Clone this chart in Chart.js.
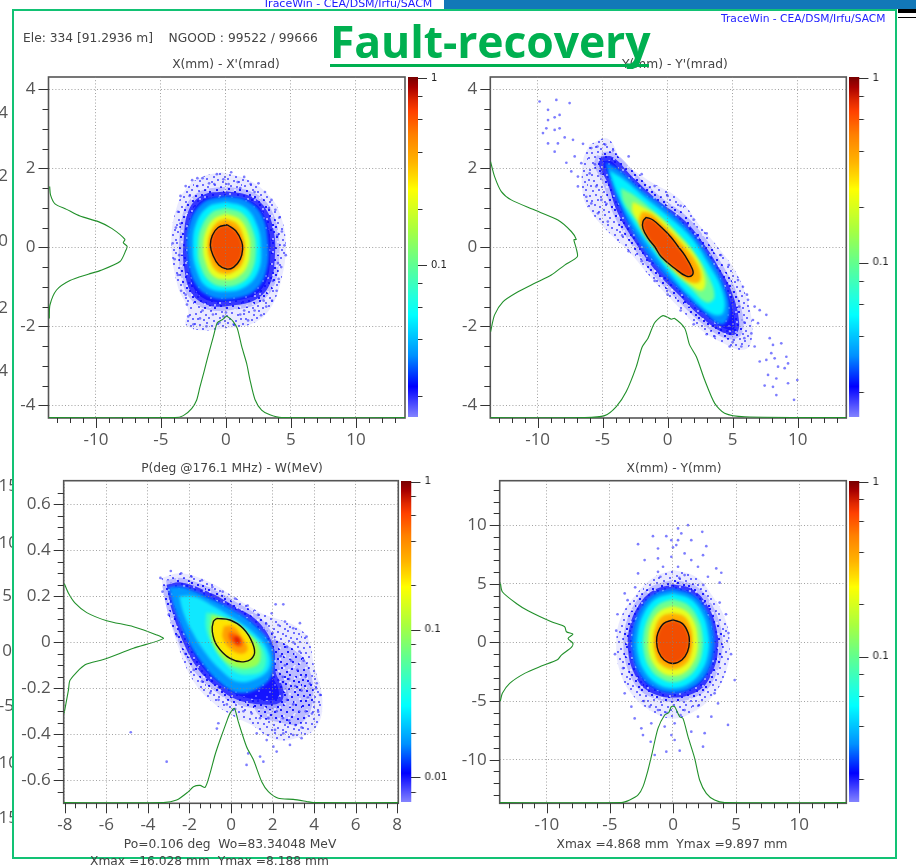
<!DOCTYPE html>
<html><head><meta charset="utf-8">
<script src="https://cdn.jsdelivr.net/npm/chart.js@4"></script>
<style>
html,body{margin:0;padding:0;background:#fff;width:916px;height:865px;overflow:hidden}
#stage{position:absolute;left:0;top:0;width:916px;height:865px;overflow:hidden;filter:blur(0.3px)}
.t{position:absolute;white-space:pre;font-family:"DejaVu Sans",sans-serif;font-size:12.25px;color:#444;line-height:1;z-index:5}
.c{transform:translateX(-50%)}
.st{position:absolute;font-family:"Open Sans",sans-serif;font-size:17px;color:#555;line-height:1;text-align:right;width:30px}
canvas{position:absolute;z-index:3}
</style></head><body><div id="stage">
<div style="position:absolute;left:444px;top:0;width:472px;height:9px;background:#1278b8"></div>
<div style="position:absolute;left:898px;top:9px;width:18px;height:4px;background:#000"></div>
<div style="position:absolute;left:898px;top:16.5px;width:18px;height:1.5px;background:#000"></div>
<div class="t" style="left:263px;top:-2px;color:#1a1aff;font-size:11px">TraceWin - CEA/DSM/Irfu/SACM</div>
<div class="t" style="left:90px;top:855px;">Xmax =16.028 mm  Ymax =8.188 mm</div>
<div class="st" style="left:-22px;top:103px">4</div><div class="st" style="left:-22px;top:166px">2</div>
<div class="st" style="left:-22px;top:231px">0</div><div class="st" style="left:-22px;top:298px">2</div>
<div class="st" style="left:-22px;top:361px">4</div>
<div class="st" style="left:-12px;top:476px">15</div><div class="st" style="left:-12px;top:533px">10</div>
<div class="st" style="left:-18px;top:586px">5</div><div class="st" style="left:-18px;top:641px">0</div>
<div class="st" style="left:-16px;top:696px">-5</div><div class="st" style="left:-12px;top:753px">10</div>
<div class="st" style="left:-12px;top:808px">15</div>
<div style="position:absolute;left:12px;top:9px;width:881px;height:846px;background:#fff;border:2.5px solid #12c274;z-index:1"></div>
<div class="t" style="left:23px;top:32px" id="hdr">Ele: 334 [91.2936 m]    NGOOD : 99522 / 99666</div>
<div class="t" style="left:721px;top:14px;color:#2222ff;font-size:10.7px">TraceWin - CEA/DSM/Irfu/SACM</div>
<div class="t c" style="left:226px;top:58px">X(mm) - X'(mrad)</div>
<div class="t c" style="left:675px;top:58px">Y(mm) - Y'(mrad)</div>
<div class="t c" style="left:232px;top:462px">P(deg @176.1 MHz) - W(MeV)</div>
<div class="t c" style="left:674px;top:462px">X(mm) - Y(mm)</div>
<div class="t c" style="left:230px;top:838px">Po=0.106 deg  Wo=83.34048 MeV</div>
<div class="t c" style="left:672px;top:838px">Xmax =4.868 mm  Ymax =9.897 mm</div>
<div style="position:absolute;left:330px;top:12px;color:#00b050;font:700 44.5px 'Open Sans',sans-serif;line-height:58px;z-index:6;white-space:pre;letter-spacing:-0.1px" id="ttl">Fault-recovery</div>
<div style="position:absolute;left:330px;top:64px;width:319px;height:3px;background:#00b050;z-index:6"></div>
<canvas id="a1"></canvas><canvas id="b1"></canvas>
<canvas id="a2"></canvas><canvas id="b2"></canvas>
<canvas id="a3"></canvas><canvas id="b3"></canvas>
<canvas id="a4"></canvas><canvas id="b4"></canvas>
</div>
<script>
// ---------- tick lists ----------
const xMajorWide=[-10,-5,0,5,10];
const xMinorWide=[-13,-12,-11,-9,-8,-7,-6,-4,-3,-2,-1,1,2,3,4,6,7,8,9,11,12,13];
const yMajorPhase=[-4,-2,0,2,4];
const yMinorPhase=[-3.5,-3,-2.5,-1.5,-1,-.5,.5,1,1.5,2.5,3,3.5];
const xMajorP3=[-8,-6,-4,-2,0,2,4,6,8];
const xMinorP3=[-7.5,-7,-6.5,-5.5,-5,-4.5,-3.5,-3,-2.5,-1.5,-1,-.5,.5,1,1.5,2.5,3,3.5,4.5,5,5.5,6.5,7,7.5];
const yMajorP3=[-.6,-.4,-.2,0,.2,.4,.6];
const yMinorP3=[-.65,-.55,-.5,-.45,-.35,-.3,-.25,-.15,-.1,-.05,.05,.1,.15,.25,.3,.35,.45,.5,.55,.65];
const yMajorP4=[-10,-5,0,5,10];
const yMinorP4=[-13,-12,-11,-9,-8,-7,-6,-4,-3,-2,-1,1,2,3,4,6,7,8,9,11,12,13];
const cbMajor=[1,.1];
const cbMajorP3=[1,.1,.01];
const cbMinor=[.8,.6,.4,.2,.08,.06,.04,.02];
const cbMinorP3=[.8,.6,.4,.2,.08,.06,.04,.02,.008];
const cbMax=[1.012,1.012,1.012,1.012];
const cbMin=[.0154,.0146,.0068,.0148];
const cbStops=[[0,'#780000'],[.03,'#a80000'],[.07,'#e02800'],[.1,'#ff4000'],[.17,'#ff8000'],[.25,'#ffb400'],[.3,'#ffe000'],[.33,'#ffff00'],[.45,'#a8ff40'],[.55,'#60ff90'],[.65,'#20ffe0'],[.7,'#00ffff'],[.82,'#0090ff'],[.91,'#0000ff'],[1,'#8484ff']];

// ---------- density level fills, outer to inner ----------
const levelColors=['speck','holes','#0090ff','#00f0ff','#70ff90','#e8ff20','#ffb000','#f24e00'];
const levelColorsP3=['speck','speckDense','holes','#0098ff','#10e8ff','#40ffc0','#98ff50','#ffe400','#ffa000','#ff6000','#e02000'];
// hand-placed speckle cell used as the low-density fill texture
const speckCell=[[1,3],[6,1],[11,4],[16,0],[21,3],[27,1],[32,5],[37,2],[43,4],[3,8],[9,9],[14,7],[19,10],[25,7],[30,10],[35,8],[41,10],[46,8],[0,13],[5,14],[12,12],[17,15],[23,13],[28,15],[33,12],[39,14],[44,15],[2,19],[8,18],[13,20],[20,18],[26,20],[31,17],[36,19],[42,20],[47,18],[4,24],[10,23],[15,25],[22,23],[29,25],[34,22],[40,25],[45,23],[1,29],[7,28],[12,30],[18,28],[24,30],[30,28],[37,30],[43,28],[3,34],[9,33],[16,35],[21,33],[27,35],[33,33],[39,35],[46,34],[0,39],[6,38],[11,40],[17,38],[23,40],[29,38],[35,40],[41,38],[47,40],[4,44],[10,45],[15,43],[20,45],[26,43],[32,45],[38,43],[44,45]];

// ---------- panel 1: X - X' ----------
const p1L0=[[-.3,1.9],[1.6,1.72],[3.2,1.35],[4.1,.9],[4.6,.1],[4.2,-.9],[3.3,-1.6],[1.9,-1.95],[0,-2.05],[-2,-2.1],[-3.1,-1.95],[-2.9,-1.6],[-3.7,-1],[-4.2,.1],[-3.8,1],[-2.9,1.55],[-1.7,1.8]];
const p1L1=[[0,1.42],[1.7,1.32],[2.9,1.05],[3.65,.45],[3.75,-.3],[3.35,-.95],[2.3,-1.32],[.5,-1.47],[-1.3,-1.47],[-2.6,-1.18],[-3.2,-.55],[-3.25,.2],[-2.85,.95],[-1.8,1.32]];
const p1L2=[[0,1.3],[1.5,1.2],[2.7,.85],[3.2,.2],[3.1,-.6],[2.2,-1.1],[.5,-1.3],[-1.2,-1.25],[-2.4,-.9],[-2.95,-.2],[-2.8,.6],[-1.7,1.15]];
const p1L3=[[0,1.15],[1.5,1],[2.4,.55],[2.7,0],[2.5,-.6],[1.5,-1],[0,-1.12],[-1.5,-1],[-2.3,-.55],[-2.55,0],[-2.3,.6],[-1.4,1.02]];
const p1L4=[[0,1],[1.3,.85],[2.1,.4],[2.3,-.1],[2,-.6],[1.2,-.9],[0,-1],[-1.2,-.88],[-2,-.45],[-2.15,.05],[-1.9,.5],[-1.1,.88]];
const p1L5=[[0,.85],[1.1,.7],[1.75,.3],[1.85,-.1],[1.6,-.5],[.9,-.75],[0,-.82],[-1,-.72],[-1.6,-.35],[-1.75,.05],[-1.5,.45],[-.9,.73]];
const p1L6=[[0,.72],[.9,.58],[1.4,.2],[1.45,-.1],[1.2,-.45],[.6,-.62],[0,-.68],[-.8,-.58],[-1.3,-.25],[-1.4,.05],[-1.2,.38],[-.7,.63]];
const p1Ellipse=[[.1,.57],[.75,.42],[1.2,.15],[1.28,-.05],[1.1,-.3],[.6,-.5],[.05,-.55],[-.55,-.45],[-1,-.2],[-1.2,.05],[-1.05,.3],[-.6,.5]];
const p1Dots=[[-3.5,1.3],[-3.1,1.55],[-2.6,1.7],[-2.2,1.55],[-1.8,1.75],[-1.3,1.62],[-.7,1.85],[-.2,1.72],[.4,1.9],[.9,1.65],[1.4,1.78],[1.9,1.6],[2.5,1.62],[3,1.4],[3.5,1.2],[3.8,.95],[4.1,.75],[4.3,.4],[4.5,.05],[4.6,-.2],[4.25,-.5],[4.05,-.8],[3.9,-1.1],[3.55,-1.35],[3.1,-1.5],[2.7,-1.72],[2.2,-1.6],[1.7,-1.85],[1.1,-1.7],[.6,-1.95],[0,-1.65],[-.5,-1.9],[-1,-1.7],[-1.5,-2],[-2,-1.8],[-2.5,-1.95],[-2.9,-1.75],[-3,-1.45],[-3.45,-1.1],[-3.7,-.7],[-3.95,-.3],[-4.1,.1],[-3.85,.5],[-3.7,.9],[-2.2,1.75],[-.9,1.6],[.2,1.6],[1.1,1.5],[2.2,1.4],[3.3,1],[3.95,.3],[4,-.4],[3.6,-.85],[2.9,-1.35],[1.4,-1.6],[-.2,-1.75],[-1.8,-1.6],[-3.1,-1.2],[-3.6,-.2],[-3.5,.6],[-2.8,1.3]];
const p1ProfileX=[[-13.64,-4.31],[-3.92,-4.31],[-3.28,-4.26],[-2.64,-4.08],[-2.26,-3.87],[-2,-3.53],[-1.69,-3.15],[-1.36,-2.73],[-.97,-2.26],[-.67,-1.91],[-.33,-1.84],[-.15,-1.8],[0,-1.74],[.31,-1.8],[.56,-1.88],[.87,-2.05],[1.21,-2.51],[1.59,-2.94],[1.85,-3.36],[2.23,-3.85],[2.74,-4.12],[3.38,-4.24],[4.28,-4.31],[13.77,-4.31]];
const p1ProfileY=[[-13.56,1.54],[-13.49,1.32],[-13.15,1.1],[-12.26,.96],[-11.23,.79],[-9.82,.65],[-8.79,.48],[-7.77,.2],[-7.9,.12],[-7.6,.02],[-7.69,-.07],[-8.15,-.36],[-9.69,-.59],[-10.59,-.68],[-12,-.84],[-13.03,-1.08],[-13.54,-1.46],[-13.59,-1.8]];

// ---------- panel 2: Y - Y' ----------
const p2L0=[[-6,2.6],[-4.6,2.75],[-3.5,2.2],[-1.5,1.7],[.8,1.25],[2.6,.5],[4,-.05],[5.2,-.6],[6.1,-1.3],[6.5,-2],[6.3,-2.5],[5.6,-2.6],[4.4,-2.45],[2.6,-2.1],[.8,-1.5],[-1.2,-.8],[-3,-.1],[-4.3,.3],[-5.8,.85],[-6.5,1.3],[-6.5,2.2]];
const p2L1=[[-5.1,2.3],[-4.2,2.28],[-2.7,1.78],[-.8,1.2],[1.3,.68],[2.8,.08],[4,-.55],[4.95,-1.15],[5.5,-1.9],[5.2,-2.2],[4.2,-2.15],[2.6,-1.77],[.9,-1.22],[-.8,-.64],[-2.6,.18],[-3.85,.88],[-4.65,1.65],[-5.3,2.1]];
const p2L2=[[-4.8,2.15],[-3.7,1.95],[-2,1.45],[-.2,1],[1.6,.45],[3,-.15],[4.2,-.85],[4.75,-1.6],[4.2,-1.95],[2.8,-1.65],[1,-1.1],[-.8,-.48],[-2.5,.3],[-3.6,1],[-4.4,1.7]];
const p2L3=[[-4.5,1.95],[-3.3,1.7],[-1.7,1.25],[0,.8],[1.8,.25],[3.1,-.4],[4.2,-1.1],[4.3,-1.65],[3.5,-1.7],[1.8,-1.25],[.2,-.68],[-1.5,.05],[-3,.8],[-3.9,1.4]];
const p2L4=[[-3.6,1.5],[-2.5,1.3],[-1,.9],[.5,.45],[2,-.1],[3.1,-.7],[3.6,-1.25],[3,-1.4],[1.8,-1.05],[.2,-.55],[-1.2,.05],[-2.6,.75],[-3.4,1.15]];
const p2L5=[[-2.7,1.15],[-1.8,1],[-.6,.75],[.8,.3],[2.2,-.25],[2.9,-.85],[2.6,-1.1],[1.6,-.9],[.2,-.45],[-1,.1],[-2.1,.6],[-2.7,.9]];
const p2L6=[[-2,.9],[-1.3,.85],[-.3,.55],[1,.12],[2.3,-.45],[2.5,-.85],[1.7,-.88],[.5,-.55],[-.7,-.1],[-1.8,.35],[-2.2,.65]];
const p2Ellipse=[[-1.64,.76],[-1.13,.69],[-.4,.48],[.28,.25],[.8,.02],[1.31,-.2],[1.9,-.55],[1.9,-.7],[1.44,-.73],[.54,-.53],[-.49,-.24],[-1,.02],[-1.51,.23],[-1.9,.48],[-1.9,.65]];
const p2Dots=[[-9.85,3.69],[-8.56,3.73],[-7.54,3.65],[-9.2,3.48],[-9.2,3.22],[-8.69,3.29],[-8.31,3.35],[-9.33,3.01],[-8.69,2.97],[-8.31,3.01],[-9.59,2.89],[-9.2,2.63],[-8.44,2.63],[-7.92,2.78],[-7.28,2.72],[-8.69,2.42],[-7.79,2.14],[-6.51,2.62],[-7.15,2.3],[-7.41,1.92],[-6.9,1.79],[-6.64,2.13],[-5.87,2.51],[-6.26,1.28],[-5.87,1.11],[-5.36,.86],[-6.9,1.54],[-5.49,1.54],[-6,1.87],[-5.1,1.87],[7.59,-1.71],[7.08,-1.59],[6.69,-1.5],[6.18,-1.33],[6.95,-1.92],[6.69,-2.51],[7.85,-2.3],[8.1,-2.47],[8.74,-2.43],[7.08,-2.89],[7.59,-2.85],[8.23,-2.81],[9.13,-2.77],[9.26,-2.94],[7.97,-2.68],[8.49,-3.02],[9,-3.06],[7.72,-3.23],[8.36,-3.32],[9.26,-3.44],[9.97,-3.36],[7.46,-3.5],[8.1,-3.53],[8.36,-3.74],[9.72,-3.86],[6.44,-2.18],[6.56,-1.84],[5.79,-1],[5.41,-.83],[5.67,-2.51],[4.77,-2.51],[3.62,-2.26],[-3,2.3],[-2,1.85],[-1,1.55],[0,1.3],[1,1.05],[2,.7],[3,.35],[4.1,-.2],[4.7,-.45],[-4.6,.65],[-3.5,.3],[-3,-.1],[-2,-.35],[-1,-.85],[0,-1.2],[1,-1.6],[2,-1.95],[3,-2.2],[-5.4,2.55],[-4.8,2.6],[-4.2,2.45],[-5.6,2.1],[-5.1,1.2],[-4.7,1.1],[5.9,-1.9],[6.1,-1.2],[5.5,-1.5],[5.9,-2.3],[5,-2.4]];
const p2ProfileX=[[-13.64,-4.31],[-6.38,-4.31],[-4.85,-4.26],[-3.95,-4.03],[-3.18,-3.65],[-2.41,-3.02],[-1.97,-2.53],[-1.51,-2.3],[-1,-1.91],[-.36,-1.73],[.28,-1.82],[.54,-1.8],[1.31,-2.05],[1.69,-2.47],[2.21,-2.77],[2.85,-3.36],[3.62,-3.95],[4.38,-4.2],[5.92,-4.29],[13.74,-4.31]];
const p2ProfileY=[[-13.62,2.17],[-13.31,1.79],[-12.79,1.41],[-12.03,1.2],[-10.36,.96],[-8.44,.69],[-7.41,.4],[-7.03,.2],[-7.21,.19],[-7.03,-.03],[-6.95,-.24],[-7.92,-.45],[-8.95,-.7],[-10.23,-.91],[-11.64,-1.15],[-12.67,-1.38],[-13.31,-1.71],[-13.62,-2.14]];

// ---------- panel 3: P - W ----------
const p3L0=[[-3.35,.28],[-2.4,.3],[-1,.26],[.1,.2],[1.4,.13],[2.3,.1],[3.1,.07],[3.7,.02],[4,-.1],[4.4,-.25],[4.1,-.37],[3,-.42],[2,-.42],[1,-.36],[.1,-.32],[-.9,-.26],[-1.8,-.17],[-2.5,-.03],[-3.1,.15]];
const p3L1=[[2,.02],[3,-.03],[3.7,-.1],[3.95,-.25],[3.4,-.35],[2.4,-.35],[1.2,-.3],[1,-.1]];
const p3L2=[[-3.1,.25],[-2.4,.26],[-1,.215],[.1,.16],[1.3,.09],[2.05,-.02],[2.15,-.13],[2.5,-.2],[2.4,-.26],[1.5,-.27],[.3,-.25],[-.6,-.2],[-1.55,-.12],[-2.25,-.01],[-2.85,.14]];
const p3L3=[[-3,.24],[-2.3,.24],[-1,.19],[.1,.14],[1.2,.07],[1.95,-.02],[2,-.13],[1.5,-.19],[.4,-.22],[-.6,-.17],[-1.4,-.09],[-2.1,.01],[-2.7,.14]];
const p3L4=[[-2.5,.2],[-1.8,.2],[-.9,.16],[.2,.1],[1.1,.04],[1.75,-.03],[1.85,-.11],[1.2,-.16],[.3,-.17],[-.5,-.12],[-1.2,-.05],[-1.9,.05],[-2.3,.13]];
const p3L5=[[-1.2,.13],[-.6,.12],[.3,.07],[1.1,.02],[1.65,-.05],[1.55,-.12],[.9,-.14],[.2,-.13],[-.4,-.08],[-.9,-.01],[-1.2,.06]];
const p3L6=[[-.95,.12],[-.3,.1],[.5,.05],[1.25,0],[1.4,-.08],[1,-.11],[.3,-.11],[-.4,-.07],[-.95,.02]];
const p3Ellipse=[[-.69,.104],[-.05,.097],[.59,.06],[1.04,-.004],[1.11,-.055],[.67,-.084],[-.05,-.07],[-.69,-.012],[-.9,.046],[-.85,.09]];
const p3L8=[[-.35,.07],[.1,.07],[.55,.02],[.8,-.03],[.5,-.05],[0,-.03],[-.4,.02]];
const p3L9=[[-.1,.045],[.25,.035],[.55,.0],[.45,-.02],[.1,-.005],[-.1,.02]];
const p3L10=[[.1,.02],[.3,.025],[.45,.005],[.3,-.008]];
const p3Dots=[[-4.83,-.391],[-3.1,-.519],[-.61,-.352],[-.68,-.375],[.75,-.533],[1.56,-.519],[.83,-.483],[1.4,-.497],[2.04,-.454],[2.2,-.475],[1.72,-.425],[1.24,-.396],[2.84,-.446],[3.4,-.417],[3,-.403],[2.52,-.396],[2.12,-.381],[4.29,-.229],[4.13,-.178],[4.2,-.302],[2.15,.165],[2.52,.165],[1.96,.126],[2.6,.09],[3.32,.083],[3,.061],[2.28,.075],[3.64,.025],[2.4,-.06],[2.7,-.02],[3,0],[3.3,-.04],[3.5,-.08],[2.6,-.1],[2.9,-.08],[3.2,-.12],[3.6,-.15],[3.8,-.18],[2.5,-.15],[2.8,-.16],[3.1,-.19],[3.4,-.21],[3.7,-.24],[4,-.26],[4.1,-.2],[2.4,-.22],[2.7,-.25],[3,-.27],[3.3,-.3],[3.6,-.3],[3.9,-.31],[2.2,-.3],[2.5,-.33],[2.8,-.34],[3.1,-.36],[3.4,-.37],[1.8,-.33],[1.4,-.33],[1,-.31],[.6,-.3],[.2,-.29],[-.2,-.27],[-.6,-.25],[-1,-.22],[-1.4,-.17],[-1.8,-.12],[-2.2,-.05],[-2.6,.03],[-3,.12],[-3.3,.22],[-3.4,.28],[-2.9,.31],[-2.4,.3],[-1.9,.285],[-1.4,.27],[-.9,.24],[-.4,.22],[.2,.19],[.8,.16],[1.3,.12],[1.7,.08],[2,.04]];
const p3ProfileX=[[-8.06,-.697],[-3.26,-.697],[-2.62,-.686],[-2.05,-.649],[-1.81,-.628],[-1.49,-.622],[-1.25,-.631],[-1.01,-.57],[-.77,-.49],[-.53,-.425],[-.21,-.345],[-.05,-.309],[.16,-.287],[.35,-.345],[.75,-.454],[1.08,-.511],[1.48,-.606],[1.8,-.649],[2.28,-.678],[3,-.683],[3.64,-.692],[3.96,-.697],[8.06,-.697]];
const p3ProfileY=[[-8.04,.257],[-7.83,.213],[-7.51,.17],[-6.95,.129],[-5.99,.094],[-4.7,.068],[-3.58,.032],[-3.26,.016],[-4.7,-.026],[-6.15,-.075],[-7.03,-.098],[-7.75,-.164],[-7.83,-.207],[-8.04,-.309]];

// ---------- panel 4: X - Y ----------
const p4L0=[[0,6.2],[1.8,5.6],[3.1,4],[4.2,1.8],[4.5,-.5],[4.2,-2.5],[3.2,-4.5],[1.5,-6],[0,-6.5],[-1.5,-6],[-3.2,-4.5],[-4.2,-2.5],[-4.5,0],[-4.1,2.2],[-3,4],[-1.6,5.5]];
const p4L1=[[0,4.95],[1.6,4.5],[2.75,3.1],[3.45,1.15],[3.55,-.8],[3.05,-2.7],[2.1,-4.05],[0,-4.7],[-2.1,-4.05],[-3.05,-2.7],[-3.55,-.8],[-3.45,1.25],[-2.75,3.1],[-1.6,4.4]];
const p4L2=[[0,4.6],[1.5,4.1],[2.6,2.8],[3.2,.9],[3.2,-.9],[2.7,-2.6],[1.6,-3.8],[0,-4.3],[-1.6,-3.8],[-2.7,-2.6],[-3.2,-.9],[-3.2,.9],[-2.6,2.8],[-1.5,4.1]];
const p4L3=[[0,4.2],[1.4,3.7],[2.35,2.4],[2.8,.7],[2.8,-.9],[2.3,-2.4],[1.3,-3.5],[0,-3.9],[-1.3,-3.5],[-2.3,-2.4],[-2.8,-.9],[-2.8,.7],[-2.35,2.4],[-1.4,3.7]];
const p4L4=[[0,3.7],[1.2,3.2],[2,2],[2.35,.5],[2.3,-.9],[1.9,-2.1],[1.1,-3],[0,-3.4],[-1.1,-3],[-1.9,-2.1],[-2.3,-.9],[-2.35,.5],[-2,2],[-1.2,3.2]];
const p4L5=[[0,3.1],[1,2.7],[1.7,1.7],[1.95,.4],[1.9,-.9],[1.5,-1.9],[.85,-2.6],[0,-2.85],[-.85,-2.6],[-1.5,-1.9],[-1.9,-.9],[-1.95,.4],[-1.7,1.7],[-1,2.7]];
const p4L6=[[0,2.5],[.9,2.2],[1.4,1.3],[1.55,.2],[1.45,-.9],[1.05,-1.8],[0,-2.3],[-1.05,-1.8],[-1.45,-.9],[-1.55,.2],[-1.4,1.3],[-.9,2.2]];
const p4Ellipse=[[0,1.92],[.75,1.6],[1.2,.8],[1.3,.05],[1.15,-.8],[.7,-1.5],[0,-1.8],[-.7,-1.5],[-1.15,-.8],[-1.3,.05],[-1.2,.8],[-.75,1.6]];
const p4Dots=[[.4,9.72],[1.19,10],[2.32,9.43],[.66,9.29],[-.53,9.06],[-1.59,9.06],[-.13,8.72],[.4,8.72],[1.45,8.72],[0,8.1],[.26,8.3],[-2.77,8.38],[-1.19,8.01],[2.64,8.21],[2.38,7.44],[-1.19,7.16],[-2.25,7.02],[-.13,7.3],[.92,7.59],[1.45,7.02],[-.79,6.45],[.4,6.45],[1.98,6.45],[3.43,6.31],[3.83,5.94],[-2.77,5.88],[-1.19,6.02],[.92,5.74],[2.77,5.6],[3.7,5.09],[-3.83,4.18],[-3.3,-5.48],[-3.04,-6.48],[-2.51,-7.33],[-2.38,-7.9],[-1.77,-8.47],[-1.45,-9.6],[-.53,-9.32],[.53,-9.23],[.13,-8.32],[-.66,-7.18],[.13,-6.9],[1.45,-7.61],[2.38,-8.89],[2.51,-7.74],[4.36,-7.04],[3.04,-6.33],[.92,-5.77],[-1.19,-5.77],[-1.72,-6.9],[1.98,-6.33],[-.13,-7.9],[-1.85,-5.48],[3.57,-5.2],[3.3,-4.34],[-3.83,-4.34],[4.89,-3.21],[-3.96,-2.2],[4.6,-1],[4.4,.8],[4.2,2.4],[3.7,3.4],[-4.6,-1],[-4.5,1],[-4.4,2.4],[-3.6,3.6],[-3,4.7],[2.4,4.9],[-1,5.6],[.5,5.5],[2,-5.4],[-2.3,-5],[.6,-6.2],[-.5,-6]];
const p4ProfileX=[[-13.74,-13.66],[-4.1,-13.66],[-3.43,-13.44],[-2.77,-13.01],[-2.38,-12.3],[-1.98,-10.88],[-1.66,-9.46],[-1.19,-7.33],[-.66,-6.19],[-.34,-5.99],[-.13,-5.48],[.13,-5.48],[.53,-6.34],[.79,-6.48],[1.19,-8.04],[1.72,-9.89],[2.11,-11.73],[2.64,-12.87],[3.3,-13.44],[4.1,-13.66],[13.74,-13.66]];
const p4ProfileY=[[-13.69,5.09],[-13.53,4.32],[-12.42,3.32],[-11.49,2.7],[-9.64,1.76],[-8.59,1.34],[-8.45,.91],[-7.93,.71],[-8.32,.34],[-7.93,-.09],[-8.06,-.43],[-8.85,-1.08],[-9.17,-1.48],[-10.44,-2.02],[-11.76,-2.64],[-12.95,-3.49],[-13.53,-4.34],[-13.69,-5]];

// ---------- assembly ----------
const FONT_TICK={family:'"Open Sans",sans-serif',size:17};
const pts=a=>a.map(([x,y])=>({x,y}));
const closed=a=>pts(a.concat([a[0]]));
const heatStart=4;
const noPad=s=>{s.paddingTop=0;s.paddingBottom=0;s.paddingLeft=0;s.paddingRight=0};

function tile(base,color,keep,size,second){
  const c=document.createElement('canvas');c.width=48;c.height=48;
  const g=c.getContext('2d');
  if(base){g.fillStyle=base;g.fillRect(0,0,48,48);}
  g.fillStyle=color;
  speckCell.forEach((p,i)=>{if(i%keep===0)g.fillRect(p[0],p[1],size,size)});
  if(second){g.fillStyle=second;speckCell.forEach((p,i)=>{if(i%2===0)g.fillRect(p[1],p[0],size,size)});}
  return c;
}
const tiles={
  speck:tile('rgba(150,150,255,.2)','rgba(30,30,255,.62)',1,2),
  speckDense:tile('rgba(110,110,255,.38)','rgba(10,10,255,.8)',1,2,'rgba(255,255,255,.55)'),
  holes:tile('#1414ff','rgba(140,140,255,.6)',2,2)
};
function fillFor(ctx,key){return tiles[key]?ctx.createPattern(tiles[key],'repeat'):key;}

function panel(o){
  const cv=document.getElementById(o.id);
  const cl=o.canvas[0],ct=o.canvas[1],cw=o.canvas[2],ch=o.canvas[3];
  const gutterB=ct+ch-o.plot[3]-6, gutterL=o.plot[0]-cl;
  cv.style.left=cl+'px';cv.style.top=ct+'px';cv.style.width=cw+'px';cv.style.height=ch+'px';
  cv.width=cw;cv.height=ch;
  const ctx2=cv.getContext('2d');
  const ds=[];
  ds.push({data:closed(o.ellipse),borderColor:'#111',borderWidth:1.4,tension:.4,pointRadius:0,fill:false});
  ds.push({data:pts(o.profX),borderColor:'#21902a',borderWidth:1.1,tension:.25,pointRadius:0,fill:false});
  ds.push({data:pts(o.profY),borderColor:'#21902a',borderWidth:1.1,tension:.25,pointRadius:0,fill:false});
  ds.push({data:pts(o.dots),showLine:false,pointRadius:1.35,pointBorderWidth:0,pointBackgroundColor:'rgba(40,40,255,.6)'});
  o.levels.slice().reverse().forEach(l=>{
    const isBlueEdge=l[1]==='holes';
    ds.push({data:closed(l[0]),borderWidth:isBlueEdge?9:0,borderColor:isBlueEdge?fillFor(ctx2,'speckDense'):'rgba(0,0,0,0)',pointRadius:0,tension:.4,fill:'shape',backgroundColor:fillFor(ctx2,l[1])});
  });
  const blurFrom=ds.length-o.sharp;
  const gridOpt={color:'rgba(130,130,130,.75)',lineWidth:1,drawTicks:false,z:1};
  new Chart(cv,{type:'line',data:{datasets:ds},
    options:{responsive:false,animation:false,events:[],
      layout:{autoPadding:false,padding:{top:o.plot[1]-ct,right:cl+cw-o.plot[2],bottom:6,left:0}},
      plugins:{legend:{display:false},tooltip:{enabled:false},title:{display:false}},
      scales:{
        x:{type:'linear',min:o.xr[0],max:o.xr[1],afterFit:s=>{s.height=gutterB;noPad(s)},
          afterBuildTicks:s=>{s.ticks=o.xMajor.map(value=>({value}))},
          grid:gridOpt,border:{display:false,dash:[1,2.2]},
          ticks:{autoSkip:false,maxRotation:0,padding:12,color:'#555',font:FONT_TICK,callback:v=>String(v)}},
        y:{type:'linear',min:o.yr[0],max:o.yr[1],afterFit:s=>{s.width=gutterL;noPad(s)},
          afterBuildTicks:s=>{s.ticks=o.yMajor.map(value=>({value}))},
          grid:gridOpt,border:{display:false,dash:[1,2.2]},
          ticks:{autoSkip:false,padding:13,color:'#555',font:FONT_TICK,callback:v=>String(v)}}
      }},
    plugins:[{id:'marks',
      beforeDatasetsDraw(c){
        const a=c.chartArea,g=c.ctx;
        g.save();g.strokeStyle='#555';g.lineWidth=1.6;g.strokeRect(a.left,a.top,a.right-a.left,a.bottom-a.top);g.restore();
      },
      afterDatasetDraw(c,args){
        if(args.index===blurFrom) c.ctx.filter='blur(1.6px)';
        if(args.index===heatStart) c.ctx.filter='none';
      },
      afterDraw(c){
        const a=c.chartArea,g=c.ctx,X=c.scales.x,Y=c.scales.y;
        g.save();g.strokeStyle='#333';g.lineWidth=1;g.beginPath();
        const v=(vals,len)=>vals.forEach(t=>{const p=Math.round(X.getPixelForValue(t))+.5;g.moveTo(p,a.bottom);g.lineTo(p,a.bottom+len)});
        const h=(vals,len)=>vals.forEach(t=>{const p=Math.round(Y.getPixelForValue(t))+.5;g.moveTo(a.left,p);g.lineTo(a.left-len,p)});
        v(o.xMajor,10);v(o.xMinor,5);h(o.yMajor,10);h(o.yMinor,6);
        g.stroke();g.restore();
      }}]});
}

function colorbar(o){
  const cv=document.getElementById(o.id);
  const cl=o.box[0],top=o.box[1],w=o.box[2],bot=o.box[3];
  const ct=top-6,cw=w+36,ch=bot-top+12;
  cv.style.left=cl+'px';cv.style.top=ct+'px';cv.style.width=cw+'px';cv.style.height=ch+'px';
  cv.width=cw;cv.height=ch;
  new Chart(cv,{type:'bar',data:{labels:['density'],datasets:[{data:[[o.min,o.max]],barPercentage:1,categoryPercentage:1,borderWidth:0,
      backgroundColor:ctx=>{const a=ctx.chart.chartArea;if(!a)return '#00f';const gr=ctx.chart.ctx.createLinearGradient(0,a.top,0,a.bottom);cbStops.forEach(s=>gr.addColorStop(s[0],s[1]));return gr}}]},
    options:{responsive:false,animation:false,events:[],
      layout:{autoPadding:false,padding:{top:6,bottom:6,left:0,right:0}},
      plugins:{legend:{display:false},tooltip:{enabled:false}},
      scales:{
        x:{type:'category',display:false,offset:true},
        y:{type:'logarithmic',position:'right',min:o.min,max:o.max,afterFit:s=>{s.width=36;noPad(s)},
          afterBuildTicks:s=>{s.ticks=o.major.map(value=>({value}))},
          grid:{display:false,drawTicks:false},border:{display:false},
          ticks:{padding:13,color:'#222',font:{family:'"DejaVu Sans",sans-serif',size:10},callback:v=>String(v)}}
      }},
    plugins:[{id:'cbmarks',afterDraw(c){
      const a=c.chartArea,g=c.ctx,Y=c.scales.y;
      g.save();g.strokeStyle='#333';g.lineWidth=1;g.beginPath();
      const h=(vals,len)=>vals.forEach(t=>{const p=Math.round(Y.getPixelForValue(t))+.5;g.moveTo(a.right,p);g.lineTo(a.right+len,p)});
      h(o.major,9);h(o.minor,4.5);g.stroke();g.restore();
    }}]});
}

panel({id:'a1',canvas:[2,70,412,395],plot:[48.5,77,405,418],xr:[-13.65,13.77],yr:[-4.32,4.31],xMajor:xMajorWide,xMinor:xMinorWide,yMajor:yMajorPhase,yMinor:yMinorPhase,sharp:2,
  levels:[[p1L0,levelColors[0]],[p1L1,levelColors[1]],[p1L2,levelColors[2]],[p1L3,levelColors[3]],[p1L4,levelColors[4]],[p1L5,levelColors[5]],[p1L6,levelColors[6]],[p1Ellipse,levelColors[7]]],
  ellipse:p1Ellipse,dots:p1Dots,profX:p1ProfileX,profY:p1ProfileY});
panel({id:'a2',canvas:[444,70,412,395],plot:[490.3,77,846.3,418],xr:[-13.64,13.74],yr:[-4.32,4.31],xMajor:xMajorWide,xMinor:xMinorWide,yMajor:yMajorPhase,yMinor:yMinorPhase,sharp:2,
  levels:[[p2L0,levelColors[0]],[p2L1,levelColors[1]],[p2L2,levelColors[2]],[p2L3,levelColors[3]],[p2L4,levelColors[4]],[p2L5,levelColors[5]],[p2L6,levelColors[6]],[p2Ellipse,levelColors[7]]],
  ellipse:p2Ellipse,dots:p2Dots,profX:p2ProfileX,profY:p2ProfileY});
panel({id:'a3',canvas:[14,474,392,365],plot:[63.7,480.7,398.3,803.3],xr:[-8.06,8.06],yr:[-.7,.7026],xMajor:xMajorP3,xMinor:xMinorP3,yMajor:yMajorP3,yMinor:yMinorP3,sharp:3,
  levels:[[p3L0,levelColorsP3[0]],[p3L1,levelColorsP3[1]],[p3L2,levelColorsP3[2]],[p3L3,levelColorsP3[3]],[p3L4,levelColorsP3[4]],[p3L5,levelColorsP3[5]],[p3L6,levelColorsP3[6]],[p3Ellipse,levelColorsP3[7]],[p3L8,levelColorsP3[8]],[p3L9,levelColorsP3[9]],[p3L10,levelColorsP3[10]]],
  ellipse:p3Ellipse,dots:p3Dots,profX:p3ProfileX,profY:p3ProfileY});
panel({id:'a4',canvas:[452,474,404,365],plot:[499.7,480.7,846.3,803.3],xr:[-13.74,13.74],yr:[-13.72,13.79],xMajor:xMajorWide,xMinor:xMinorWide,yMajor:yMajorP4,yMinor:yMinorP4,sharp:2,
  levels:[[p4L0,levelColors[0]],[p4L1,levelColors[1]],[p4L2,levelColors[2]],[p4L3,levelColors[3]],[p4L4,levelColors[4]],[p4L5,levelColors[5]],[p4L6,levelColors[6]],[p4Ellipse,levelColors[7]]],
  ellipse:p4Ellipse,dots:p4Dots,profX:p4ProfileX,profY:p4ProfileY});

colorbar({id:'b1',box:[407.5,77,10.5,417],min:cbMin[0],max:cbMax[0],major:cbMajor,minor:cbMinor});
colorbar({id:'b2',box:[849,77,10.7,417],min:cbMin[1],max:cbMax[1],major:cbMajor,minor:cbMinor});
colorbar({id:'b3',box:[401,481,10.7,802],min:cbMin[2],max:cbMax[2],major:cbMajorP3,minor:cbMinorP3});
colorbar({id:'b4',box:[849,481,10.7,802],min:cbMin[3],max:cbMax[3],major:cbMajor,minor:cbMinor});
</script></body></html>
